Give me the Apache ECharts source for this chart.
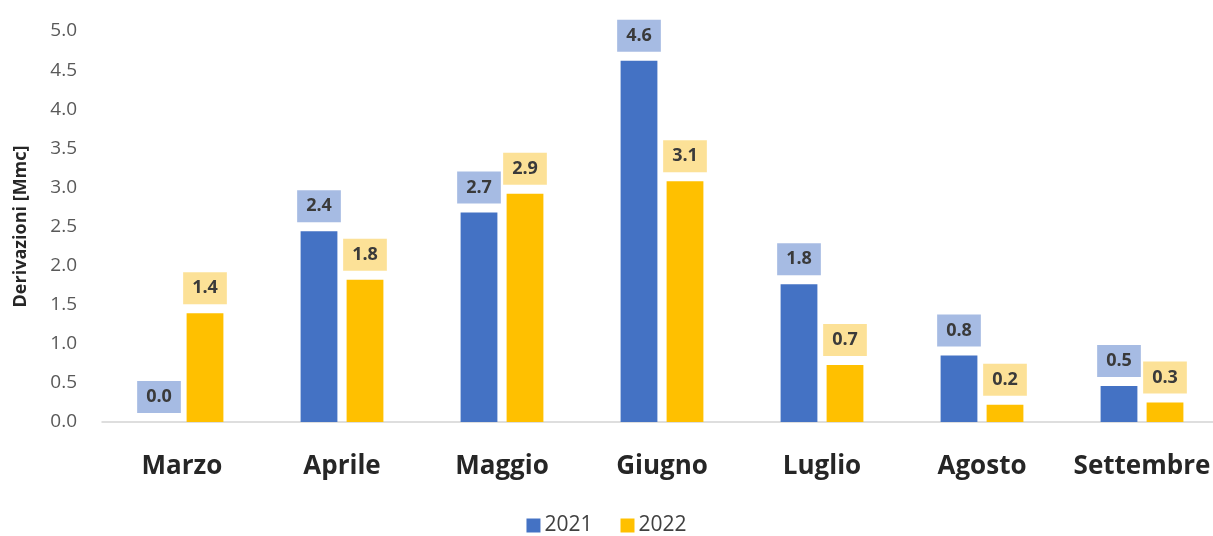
<!DOCTYPE html>
<html>
<head>
<meta charset="utf-8">
<script src="https://cdn.jsdelivr.net/npm/echarts@6/dist/echarts.min.js"></script>
<style>
  html, body { margin: 0; padding: 0; background: #ffffff; }
  #chart { width: 1213px; height: 536px; }
</style>
</head>
<body>
<div id="chart"></div>
<script>
// Monthly diversions, millions of cubic metres
const months = ['Marzo', 'Aprile', 'Maggio', 'Giugno', 'Luglio', 'Agosto', 'Settembre'];
const seriesNames = ['2021', '2022'];
const values2021 = [0.00, 2.44, 2.68, 4.62, 1.76, 0.85, 0.46];
const values2022 = [1.39, 1.82, 2.92, 3.08, 0.73, 0.22, 0.25];
const yTicks = { min: 0, max: 5, interval: 0.5 };

const FONT = '"Open Sans", Lato, sans-serif';

function valueLabel(bg) {
  return {
    show: true,
    position: 'top',
    distance: 9,
    formatter: p => p.value.toFixed(1),
    fontFamily: FONT,
    fontWeight: 'bold',
    fontSize: 18,
    lineHeight: 20,
    color: '#3a3a3a',
    backgroundColor: bg,
    padding: [6, 9, 6, 9]
  };
}

const chart = echarts.init(document.getElementById('chart'), null, { renderer: 'canvas' });
chart.setOption({
  animation: false,
  backgroundColor: '#ffffff',
  grid: { left: 102, top: 31, width: 1120, bottom: 114, containLabel: false, outerBoundsMode: 'none' },
  legend: {
    data: seriesNames,
    top: 510,
    left: 'center',
    itemWidth: 14,
    itemHeight: 14,
    itemGap: 28,
    icon: 'rect',
    textStyle: { fontFamily: FONT, fontSize: 21, color: '#404040', padding: [0, 0, 0, -1] }
  },
  xAxis: {
    type: 'category',
    data: months,
    axisLine: { lineStyle: { color: '#d4d4d4', width: 1.5 } },
    axisTick: { show: false },
    axisLabel: {
      interval: 0,
      hideOverlap: false,
      margin: 32,
      fontFamily: FONT,
      fontWeight: 'bold',
      fontSize: 26,
      color: '#262626'
    }
  },
  yAxis: {
    type: 'value',
    min: yTicks.min,
    max: yTicks.max,
    interval: yTicks.interval,
    name: 'Derivazioni [Mmc]',
    nameLocation: 'middle',
    nameGap: 72,
    nameTextStyle: { fontFamily: FONT, fontWeight: 'bold', fontSize: 18, color: '#262626' },
    axisLine: { show: false },
    axisTick: { show: false },
    splitLine: { show: false },
    axisLabel: {
      margin: 25,
      fontFamily: FONT,
      fontSize: 19,
      color: '#595959',
      formatter: v => v.toFixed(1)
    }
  },
  series: [
    {
      name: seriesNames[0],
      type: 'bar',
      data: values2021,
      barWidth: '23%',
      barGap: '25%',
      itemStyle: { color: '#4472c4' },
      label: valueLabel('rgba(150,175,222,0.85)')
    },
    {
      name: seriesNames[1],
      type: 'bar',
      data: values2022,
      barWidth: '23%',
      itemStyle: { color: '#ffc000' },
      label: valueLabel('rgba(252,222,140,0.9)')
    }
  ]
});
</script>
</body>
</html>
